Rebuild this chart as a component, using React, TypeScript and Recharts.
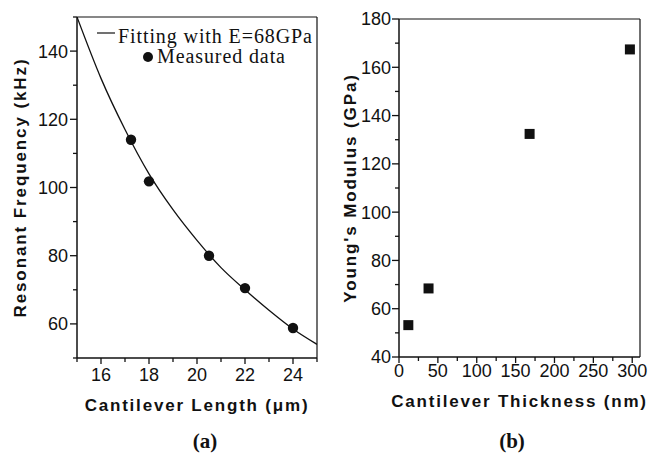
import React from 'react';
import { ComposedChart, ScatterChart, Line, Scatter, XAxis, YAxis, Legend, ReferenceLine } from 'recharts';

// (a) fitted curve, E = 68 GPa
const fitLength = [15, 16, 17, 18, 19, 20, 21, 22, 23, 24, 25];
const fitFreq = [150, 132, 117, 104, 93.5, 84.5, 76.5, 70, 64, 58.5, 54];

// (a) measured points
const measLength = [17.25, 18, 20.5, 22, 24];
const measFreq = [114, 101.8, 80, 70.5, 58.8];

// (b) Young's modulus vs thickness
const thickness = [12, 38, 168, 297];
const modulus = [53.2, 68.4, 132.4, 167.4];

const lengthTicks = [15, 16, 17, 18, 19, 20, 21, 22, 23, 24, 25];
const lengthLabels = [16, 18, 20, 22, 24];
const freqTicks = [50, 60, 70, 80, 90, 100, 110, 120, 130, 140, 150];
const freqLabels = [60, 80, 100, 120, 140];
const thickTicks = [0, 25, 50, 75, 100, 125, 150, 175, 200, 225, 250, 275, 300];
const thickLabels = [0, 50, 100, 150, 200, 250, 300];
const modTicks = [40, 50, 60, 70, 80, 90, 100, 110, 120, 130, 140, 150, 160, 170, 180];
const modLabels = [40, 60, 80, 100, 120, 140, 160, 180];

const fitData = fitLength.map((x, i) => ({ x, y: fitFreq[i] }));
const measData = measLength.map((x, i) => ({ x, y: measFreq[i] }));
const modData = thickness.map((x, i) => ({ x, y: modulus[i] }));

const SANS = 'Liberation Sans, Arial, sans-serif';
const SERIF = 'Liberation Serif, Times New Roman, serif';
const INK = '#111';

const bottomTick = (labels: number[], base: number) => (p: any) => {
  const major = labels.includes(p.payload.value);
  return (
    <g>
      <line x1={p.x} x2={p.x} y1={p.y} y2={p.y + (major ? 6 : 4)} stroke={INK} strokeWidth={1.3} />
      {major && (
        <text x={p.x} y={p.y + base} textAnchor="middle" fontFamily={SANS} fontSize={18} fill={INK}>
          {p.payload.value}
        </text>
      )}
    </g>
  );
};

const leftTick = (labels: number[], gap: number) => (p: any) => {
  const major = labels.includes(p.payload.value);
  return (
    <g>
      <line x1={p.x} x2={p.x - (major ? 7 : 4)} y1={p.y} y2={p.y} stroke={INK} strokeWidth={1.3} />
      {major && (
        <text x={p.x - gap} y={p.y} dy="0.36em" textAnchor="end" fontFamily={SANS} fontSize={18} fill={INK}>
          {p.payload.value}
        </text>
      )}
    </g>
  );
};

const yTitle = (value: string) => (p: any) => {
  const vb = p.viewBox;
  const cx = 20;
  const cy = vb.y + vb.height / 2;
  return (
    <text
      x={cx}
      y={cy}
      dy="0.36em"
      transform={`rotate(-90, ${cx}, ${cy})`}
      textAnchor="middle"
      fontFamily={SANS}
      fontWeight="bold"
      fontSize={17}
      letterSpacing={1.9}
      fill={INK}
    >
      {value}
    </text>
  );
};

const xTitle = (value: string, tag: string, dy: number, tagX: number) => (p: any) => {
  const vb = p.viewBox;
  return (
    <g>
      <text
        x={vb.x + vb.width / 2}
        y={vb.y + dy}
        textAnchor="middle"
        fontFamily={SANS}
        fontWeight="bold"
        fontSize={17}
        letterSpacing={1.8}
        fill={INK}
      >
        {value}
      </text>
      <text x={tagX} y={448} textAnchor="middle" fontFamily={SERIF} fontWeight="bold" fontSize={21} fill={INK}>
        {tag}
      </text>
    </g>
  );
};

const legendA = (props: any) => {
  const items = props.payload || [];
  const fitName = items[0]?.value ?? 'Fitting with E=68GPa';
  const measName = items[1]?.value ?? 'Measured data';
  return (
    <svg width={330} height={72} style={{ display: 'block' }}>
      <line x1={97} x2={115} y1={33} y2={33} stroke={INK} strokeWidth={1.2} />
      <text x={118} y={43} fontFamily={SERIF} fontSize={20} letterSpacing={0.9} fill={INK}>
        {fitName}
      </text>
      <circle cx={148} cy={57} r={5} fill={INK} />
      <text x={157} y={63} fontFamily={SERIF} fontSize={20} letterSpacing={0.9} fill={INK}>
        {measName}
      </text>
    </svg>
  );
};

const Dot = (p: any) => <circle cx={p.cx} cy={p.cy} r={5.2} fill={INK} />;
const Square = (p: any) => <rect x={p.cx - 5} y={p.cy - 5} width={10} height={10} fill={INK} />;

export default function App() {
  return (
    <div style={{ position: 'fixed', left: 0, top: 0, width: 651, height: 455, background: '#fff' }}>
      <div style={{ position: 'absolute', left: 0, top: 0 }}>
        <ComposedChart width={330} height={455} margin={{ top: 17, right: 13, bottom: 37, left: 0 }}>
          <XAxis
            type="number"
            dataKey="x"
            domain={[15, 25]}
            ticks={lengthTicks}
            interval={0}
            allowDataOverflow
            height={60}
            tickSize={0}
            tickMargin={0}
            tickLine={false}
            tick={bottomTick(lengthLabels, 23)}
            axisLine={{ stroke: INK, strokeWidth: 1.5 }}
            label={{ content: xTitle('Cantilever Length (\u03bcm)', '(a)', 53, 205) }}
          />
          <YAxis
            type="number"
            dataKey="y"
            domain={[50, 150]}
            ticks={freqTicks}
            interval={0}
            allowDataOverflow
            width={77}
            tickSize={0}
            tickMargin={0}
            tickLine={false}
            tick={leftTick(freqLabels, 9)}
            axisLine={{ stroke: INK, strokeWidth: 1.5 }}
            label={{ content: yTitle('Resonant Frequency (kHz)') }}
          />
          <ReferenceLine y={150} stroke={INK} strokeWidth={1.2} />
          <ReferenceLine x={25} stroke={INK} strokeWidth={1.2} />
          <Legend layout="vertical" align="center" verticalAlign="middle" wrapperStyle={{ position: 'absolute', left: 0, top: 0, width: 330 }} content={legendA} />
          <Line
            data={fitData}
            dataKey="y"
            name="Fitting with E=68GPa"
            type="monotone"
            stroke={INK}
            strokeWidth={1.3}
            dot={false}
            isAnimationActive={false}
          />
          <Scatter data={measData} dataKey="y" name="Measured data" shape={Dot} isAnimationActive={false} />
        </ComposedChart>
      </div>
      <div style={{ position: 'absolute', left: 330, top: 0 }}>
        <ScatterChart width={321} height={455} margin={{ top: 19, right: 11, bottom: 38, left: 0 }}>
          <XAxis
            type="number"
            dataKey="x"
            domain={[0, 310]}
            ticks={thickTicks}
            interval={0}
            allowDataOverflow
            height={60}
            tickSize={0}
            tickMargin={0}
            tickLine={false}
            tick={bottomTick(thickLabels, 20)}
            axisLine={{ stroke: INK, strokeWidth: 1.5 }}
            label={{ content: xTitle('Cantilever Thickness (nm)', '(b)', 50, 182) }}
          />
          <YAxis
            type="number"
            dataKey="y"
            domain={[40, 180]}
            ticks={modTicks}
            interval={0}
            allowDataOverflow
            width={69}
            tickSize={0}
            tickMargin={0}
            tickLine={false}
            tick={leftTick(modLabels, 8)}
            axisLine={{ stroke: INK, strokeWidth: 1.5 }}
            label={{ content: yTitle("Young's Modulus (GPa)") }}
          />
          <ReferenceLine y={180} stroke={INK} strokeWidth={1.2} />
          <ReferenceLine x={310} stroke={INK} strokeWidth={1.2} />
          <Scatter data={modData} dataKey="y" shape={Square} isAnimationActive={false} />
        </ScatterChart>
      </div>
    </div>
  );
}
